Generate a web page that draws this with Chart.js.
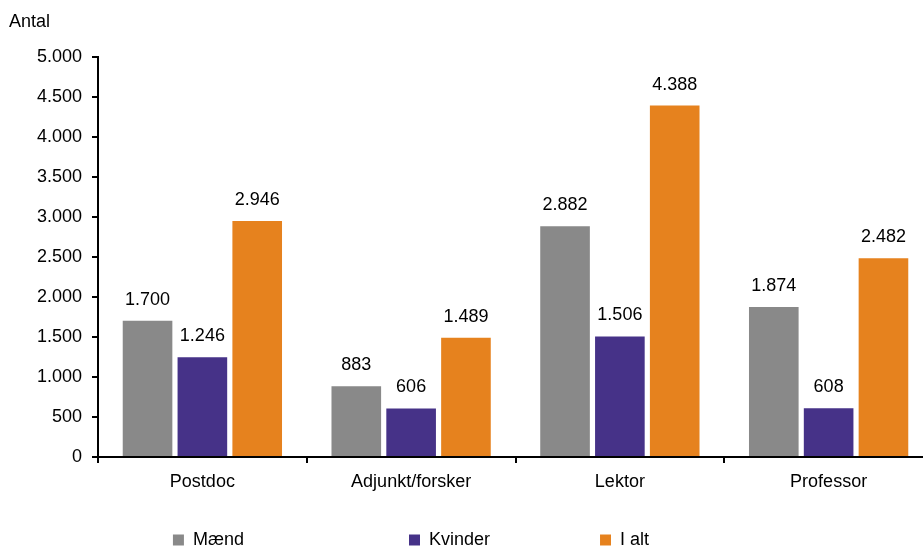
<!DOCTYPE html>
<html>
<head>
<meta charset="utf-8">
<script src="https://cdn.jsdelivr.net/npm/chart.js@4.4.0/dist/chart.umd.min.js"></script>
<style>
  html, body { margin: 0; padding: 0; overflow: hidden; background: #fff; }
  canvas { display: block; }
</style>
</head>
<body>
<canvas id="stillinger" width="935" height="560"></canvas>
<script>
// DATA
const categories = ['Postdoc', 'Adjunkt/forsker', 'Lektor', 'Professor'];
const maend = [1700, 883, 2882, 1874];
const kvinder = [1246, 606, 1506, 608];
const iAlt = [2946, 1489, 4388, 2482];
const seriesNames = ['Mænd', 'Kvinder', 'I alt'];
const seriesColors = ['#898989', '#463288', '#e6821e'];

const FONT = "'Liberation Sans', Arial, sans-serif";

// 1700 -> 1.700
function fmt(n) {
    return String(n).replace(/\B(?=(\d{3})+(?!\d))/g, '.');
}

// extra space after legend texts, so the items spread out like the original
const legendSpaces = [29, 18, 24];

// Plugin: value above each bar
const barValues = {
    id: 'barValues',
    afterDatasetsDraw(chart) {
        const ctx = chart.ctx;
        ctx.save();
        ctx.font = '18px ' + FONT;
        ctx.fillStyle = '#000';
        ctx.textAlign = 'center';
        ctx.textBaseline = 'middle';
        chart.data.datasets.forEach((ds, i) => {
            chart.getDatasetMeta(i).data.forEach((bar, j) => {
                ctx.fillText(fmt(ds.data[j]), bar.x, bar.y - 21);
            });
        });
        ctx.restore();
    }
};

const ctx = document.getElementById('stillinger').getContext('2d');
const chart = new Chart(ctx, {
    type: 'bar',
    data: {
        labels: categories,
        datasets: [maend, kvinder, iAlt].map((d, i) => ({
            label: seriesNames[i],
            data: d,
            backgroundColor: seriesColors[i],
            borderWidth: 0,
            categoryPercentage: 0.788,
            barPercentage: 0.905
        }))
    },
    options: {
        responsive: false,
        animation: false,
        layout: { padding: { left: 9, right: 2, top: 0, bottom: 1 } },
        scales: {
            x: {
                grid: {
                    display: true,
                    drawOnChartArea: false,
                    drawTicks: true,
                    tickLength: 6,
                    lineWidth: 2,
                    color: '#000'
                },
                border: { display: true, color: '#000', width: 2 },
                ticks: {
                    color: '#000',
                    font: { family: FONT, size: 18 },
                    padding: 8
                },
                afterFit(scale) { scale.height = 54; }
            },
            y: {
                min: 0,
                max: 5000,
                grid: {
                    display: true,
                    drawOnChartArea: false,
                    drawTicks: true,
                    tickLength: 6,
                    lineWidth: 2,
                    color: '#000'
                },
                border: { display: true, color: '#000', width: 2 },
                ticks: {
                    stepSize: 500,
                    color: '#000',
                    font: { family: FONT, size: 18 },
                    padding: 10,
                    callback: v => fmt(v)
                },
                afterFit(scale) { scale.width = 89; }
            }
        },
        plugins: {
            title: {
                display: true,
                text: 'Antal',
                align: 'start',
                color: '#000',
                font: { family: FONT, size: 18, weight: 'normal' },
                padding: { top: 11, bottom: 24 }
            },
            legend: {
                display: true,
                position: 'bottom',
                labels: {
                    color: '#000',
                    font: { family: FONT, size: 18 },
                    boxWidth: 11,
                    boxHeight: 11,
                    padding: 20,
                    generateLabels(chart) {
                        const items = Chart.defaults.plugins.legend.labels.generateLabels(chart);
                        items.forEach((it, i) => { it.text = it.text + ' '.repeat(legendSpaces[i]); });
                        return items;
                    }
                }
            },
            tooltip: { enabled: false }
        }
    },
    plugins: [barValues]
});
</script>
</body>
</html>
